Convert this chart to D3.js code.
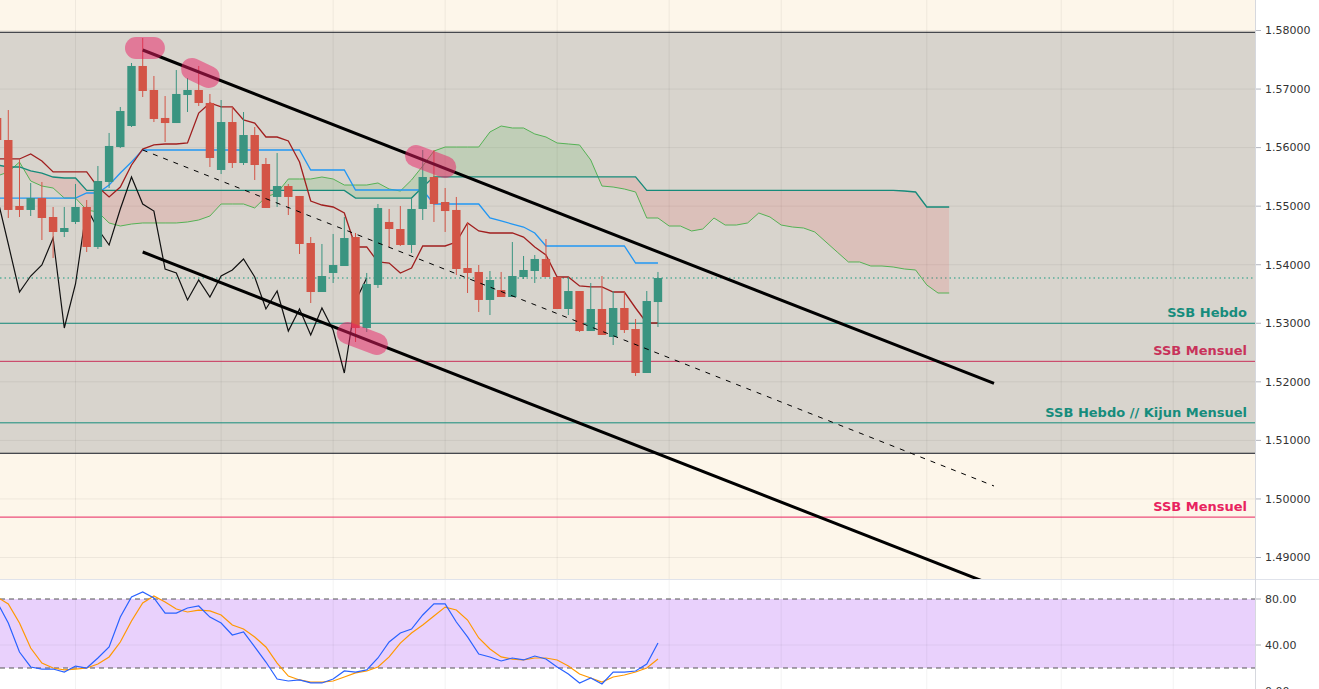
<!DOCTYPE html>
<html>
<head>
<meta charset="utf-8">
<script src="https://cdn.jsdelivr.net/npm/d3@7"></script>
<style>
  body { margin: 0; background: #ffffff; overflow: hidden; }
  svg { display: block; }
</style>
</head>
<body>
<svg id="chart" width="1319" height="689"></svg>
<script>
// ---- data (bar index -1 .. 58, spans run on to 84) ----
var barIdx = d3.range(-1, 59);

var opens  = [1.56506,1.56130,1.55003,1.54935,1.55139,1.54815,1.54559,1.54730,1.54986,1.54303,1.55413,1.56010,1.56369,1.57394,1.56984,1.56506,1.56420,1.56898,1.56984,1.56762,1.55618,1.56437,1.55737,1.56215,1.55720,1.55157,1.55344,1.55174,1.54371,1.53534,1.53859,1.53978,1.54473,1.52919,1.53654,1.54730,1.54610,1.54337,1.54952,1.55498,1.55071,1.54935,1.53944,1.53876,1.53398,1.53568,1.53449,1.53790,1.53893,1.54098,1.53790,1.53244,1.53551,1.52868,1.53244,1.52766,1.53261,1.52902,1.52151,1.53363];
var highs  = [1.56642,1.56642,1.55806,1.55396,1.55413,1.54986,1.54986,1.55379,1.55105,1.55686,1.56250,1.56694,1.57445,1.57872,1.57223,1.56881,1.57325,1.57189,1.57394,1.56916,1.56813,1.56694,1.56608,1.56352,1.55823,1.55908,1.55379,1.55174,1.54473,1.54354,1.54525,1.54815,1.54542,1.53859,1.55037,1.54952,1.55003,1.55139,1.55959,1.55959,1.55310,1.55157,1.54730,1.53995,1.53893,1.53876,1.54388,1.54149,1.54166,1.54439,1.53790,1.53790,1.53551,1.53688,1.53807,1.53551,1.53551,1.53073,1.53551,1.53876];
var lows   = [1.56045,1.54798,1.54815,1.54832,1.54422,1.54115,1.54473,1.54695,1.54217,1.54269,1.55310,1.55993,1.56352,1.56864,1.56437,1.56096,1.56420,1.56608,1.56711,1.55669,1.55549,1.55652,1.55703,1.55447,1.54969,1.54986,1.54849,1.54183,1.53346,1.53534,1.53688,1.53978,1.52680,1.52851,1.53603,1.54303,1.54320,1.54200,1.54764,1.54730,1.54559,1.53824,1.53517,1.53193,1.53141,1.53449,1.53449,1.53756,1.53688,1.53790,1.53244,1.53141,1.52851,1.52868,1.52800,1.52629,1.52834,1.52100,1.52151,1.52936];
var closes = [1.56130,1.54935,1.54935,1.55139,1.54798,1.54559,1.54627,1.54986,1.54303,1.55430,1.56028,1.56625,1.57394,1.56967,1.56489,1.56420,1.56916,1.56984,1.56762,1.55823,1.56437,1.55737,1.56215,1.55703,1.54969,1.55344,1.55157,1.54354,1.53534,1.53807,1.53995,1.54456,1.52919,1.53671,1.54969,1.54610,1.54337,1.54952,1.55498,1.55037,1.54917,1.53927,1.53859,1.53398,1.53739,1.53449,1.53807,1.53910,1.54098,1.53790,1.53244,1.53551,1.52868,1.53244,1.52800,1.53261,1.52885,1.52151,1.53380,1.53773];

var tenkan = [1.55806,1.55806,1.55806,1.55891,1.55771,1.55584,1.55584,1.55584,1.55584,1.55327,1.55157,1.55327,1.55703,1.55976,1.56045,1.56062,1.56062,1.56079,1.56591,1.56762,1.56694,1.56694,1.56472,1.56420,1.56181,1.56181,1.56113,1.55754,1.55088,1.55020,1.54986,1.54883,1.54303,1.54303,1.54047,1.54029,1.53859,1.53944,1.54320,1.54320,1.54320,1.54388,1.54713,1.54576,1.54542,1.54542,1.54542,1.54473,1.54303,1.54166,1.53790,1.53790,1.53637,1.53620,1.53620,1.53534,1.53534,1.53261,1.53005,1.53005];
var kijun  = [1.55139,1.55139,1.55139,1.55139,1.55139,1.55139,1.55139,1.55139,1.55225,1.55225,1.55361,1.55566,1.55754,1.55959,1.55959,1.55959,1.55959,1.55959,1.55959,1.55959,1.55959,1.55959,1.55959,1.55959,1.55959,1.55959,1.55959,1.55959,1.55618,1.55618,1.55618,1.55618,1.55276,1.55276,1.55276,1.55276,1.55276,1.55276,1.55276,1.55037,1.55037,1.55037,1.55037,1.55037,1.54798,1.54747,1.54695,1.54644,1.54542,1.54320,1.54320,1.54320,1.54320,1.54320,1.54320,1.54320,1.54320,1.54029,1.54029,1.54029];
var spanA  = [1.55515,1.55584,1.55754,1.55430,1.55344,1.55310,1.55139,1.55139,1.54935,1.54900,1.54713,1.54661,1.54695,1.54713,1.54713,1.54713,1.54713,1.54730,1.54764,1.54832,1.55037,1.55037,1.55037,1.54969,1.55157,1.55225,1.55464,1.55464,1.55464,1.55498,1.55464,1.55361,1.55361,1.55361,1.55396,1.55293,1.55259,1.55447,1.55686,1.55942,1.56010,1.56010,1.56010,1.56010,1.56267,1.56369,1.56335,1.56335,1.56233,1.56181,1.56079,1.56062,1.56045,1.55788,1.55344,1.55327,1.55293,1.55242,1.54798,1.54798,1.54661,1.54661,1.54576,1.54610,1.54798,1.54678,1.54678,1.54713,1.54883,1.54815,1.54678,1.54644,1.54627,1.54559,1.54388,1.54217,1.54047,1.54047,1.53978,1.53978,1.53961,1.53927,1.53910,1.53654,1.53517,1.53517];
var spanB  = [1.55703,1.55669,1.55669,1.55601,1.55566,1.55498,1.55481,1.55481,1.55270,1.55270,1.55270,1.55270,1.55270,1.55270,1.55270,1.55270,1.55270,1.55270,1.55270,1.55270,1.55270,1.55270,1.55270,1.55270,1.55270,1.55270,1.55270,1.55270,1.55270,1.55270,1.55270,1.55270,1.55139,1.55139,1.55139,1.55139,1.55139,1.55139,1.55327,1.55500,1.55500,1.55500,1.55500,1.55500,1.55500,1.55500,1.55500,1.55500,1.55500,1.55500,1.55500,1.55500,1.55500,1.55500,1.55500,1.55500,1.55500,1.55500,1.55270,1.55270,1.55270,1.55270,1.55270,1.55270,1.55270,1.55270,1.55270,1.55270,1.55270,1.55270,1.55270,1.55270,1.55270,1.55270,1.55270,1.55270,1.55270,1.55270,1.55270,1.55270,1.55270,1.55259,1.55242,1.54986,1.54986,1.54986];
var chikou = [1.55157,1.54354,1.53534,1.53807,1.53995,1.54456,1.52919,1.53671,1.54969,1.54610,1.54337,1.54952,1.55498,1.55037,1.54917,1.53927,1.53859,1.53398,1.53739,1.53449,1.53807,1.53910,1.54098,1.53790,1.53244,1.53551,1.52868,1.53244,1.52800,1.53261,1.52885,1.52151,1.53380,1.53773];

var stochK = [77.4,59.1,33.9,20.9,19.1,19.1,16.5,21.7,20,28.7,38.3,64.3,81.7,86.1,80.9,67.8,67.8,72.2,73.9,64.3,59.1,48.7,51.3,38.3,25.2,10.4,8.7,9.6,7,7,10.4,17.4,16.5,18.3,28.7,42.6,50.4,53.9,66.1,75.7,75.7,60,47,32.2,29.6,26.1,28.7,27,30.4,27.8,20.9,14.8,7,11.3,6.1,16.5,16.5,17.4,23.5,41.7];
var stochD = [81.7,75.7,59.1,37.4,24.3,20,18.3,19.1,20,23.5,29.6,42.6,60.9,76.5,82.6,77.4,71.3,68.7,70.4,69.6,66.1,57.4,53.9,47,38.3,24.3,13,9.6,7.8,7.8,8.7,12.2,15.7,17.4,20.9,29.6,41.7,50.4,57.4,65.2,73,70.4,61.7,46.1,36.5,29.6,27.8,27,28.7,28.7,27,21.7,14.8,11.3,7.8,12.2,13.9,16.5,20,27.8];

var priceTicks = [1.49, 1.50, 1.51, 1.52, 1.53, 1.54, 1.55, 1.56, 1.57, 1.58];
var stochTicks = [0, 40, 80];
var gridBars = [6, 19, 29, 39, 49, 59, 69, 82, 94, 104];

var zoneTop = 1.5797, zoneBottom = 1.5078, lastPrice = 1.53773;
var levelPrices = [1.5300, 1.5235, 1.5130, 1.4969];
var levelLabels = ["SSB Hebdo", "SSB Mensuel", "SSB Hebdo // Kijun Mensuel", "SSB Mensuel"];
var levelColors = ["#168c7c", "#c8325a", "#168c7c", "#e8235f"];

// channel drawn on the chart: [bar, price] end points
var channelUpper = [[12, 1.57667], [88, 1.51972]];
var channelMid   = [[12, 1.55959], [88, 1.50221]];
var channelLower = [[12, 1.54217], [88, 1.48522]];
// highlight marks: [bar, price] end points of each capsule
var marks = [
  [[11.4, 1.57701], [13.0, 1.57701]],
  [[16.4, 1.57343], [17.9, 1.57206]],
  [[36.4, 1.55857], [39.0, 1.55669]],
  [[30.3, 1.52834], [32.9, 1.52646]]
];

// ---- layout ----
var svg = d3.select("#chart");
var W = 1319, H = 689, plotW = 1255, mainH = 579, subTop = 580;

var x = d3.scaleLinear().domain([-0.74, 111.3]).range([0, plotW]);
var y = d3.scaleLinear().domain([1.49, 1.58]).range([557.5, 30.5]);
var ys = d3.scaleLinear().domain([0, 80]).range([691, 599]);

var defs = svg.append("defs");
defs.append("clipPath").attr("id", "clipMain")
  .append("rect").attr("x", 0).attr("y", 0).attr("width", plotW).attr("height", mainH);
defs.append("clipPath").attr("id", "clipSub")
  .append("rect").attr("x", 0).attr("y", subTop).attr("width", plotW).attr("height", H - subTop);

var spanX = function(d, k) { return x(k - 1); };
defs.append("clipPath").attr("id", "aboveB").append("path")
  .attr("d", d3.area().x(spanX).y0(0).y1(function(d) { return y(d); })(spanB));
defs.append("clipPath").attr("id", "belowB").append("path")
  .attr("d", d3.area().x(spanX).y0(mainH).y1(function(d) { return y(d); })(spanB));

// backgrounds
svg.append("rect").attr("width", W).attr("height", H).attr("fill", "#ffffff");
svg.append("rect").attr("x", 0).attr("y", 0).attr("width", plotW).attr("height", mainH).attr("fill", "#fdf6ea");

var g = svg.append("g").attr("clip-path", "url(#clipMain)");

g.append("rect")
  .attr("x", 0).attr("width", plotW)
  .attr("y", y(zoneTop)).attr("height", y(zoneBottom) - y(zoneTop))
  .attr("fill", "#d8d4cd");

// grid
g.selectAll(".hgrid").data(priceTicks).enter().append("line")
  .attr("x1", 0).attr("x2", plotW)
  .attr("y1", function(d) { return y(d); }).attr("y2", function(d) { return y(d); })
  .attr("stroke", "rgba(0,0,0,0.06)");
g.selectAll(".vgrid").data(gridBars).enter().append("line")
  .attr("x1", function(d) { return x(d); }).attr("x2", function(d) { return x(d); })
  .attr("y1", 0).attr("y2", mainH)
  .attr("stroke", "rgba(0,0,0,0.06)");

// zone borders and price levels
[zoneTop, zoneBottom].forEach(function(p) {
  g.append("line").attr("x1", 0).attr("x2", plotW)
    .attr("y1", y(p)).attr("y2", y(p))
    .attr("stroke", "#131722").attr("stroke-width", 1);
});
g.append("line").attr("x1", 0).attr("x2", plotW)
  .attr("y1", y(lastPrice)).attr("y2", y(lastPrice))
  .attr("stroke", "#1a9a80").attr("stroke-dasharray", "1.5,3");

g.selectAll(".level").data(levelPrices).enter().append("line")
  .attr("x1", 0).attr("x2", plotW)
  .attr("y1", function(d) { return y(d); }).attr("y2", function(d) { return y(d); })
  .attr("stroke", function(d, k) { return levelColors[k]; })
  .attr("stroke-width", 1);

// cloud
var cloud = d3.area().x(spanX)
  .y0(function(d, k) { return y(spanB[k]); })
  .y1(function(d) { return y(d); });
g.append("g").attr("clip-path", "url(#aboveB)").append("path")
  .attr("d", cloud(spanA)).attr("fill", "rgba(76,175,80,0.17)");
g.append("g").attr("clip-path", "url(#belowB)").append("path")
  .attr("d", cloud(spanA)).attr("fill", "rgba(239,83,80,0.15)");

var line = d3.line().x(spanX).y(function(d) { return y(d); });
g.append("path").attr("d", line(spanA)).attr("fill", "none").attr("stroke", "#55b255").attr("stroke-width", 1);
g.append("path").attr("d", line(spanB)).attr("fill", "none").attr("stroke", "#168a7a").attr("stroke-width", 1.3);
g.append("path").attr("d", line(chikou)).attr("fill", "none").attr("stroke", "#111111").attr("stroke-width", 1.2);
g.append("path").attr("d", line(kijun)).attr("fill", "none").attr("stroke", "#2196f3").attr("stroke-width", 1.3);
g.append("path").attr("d", line(tenkan)).attr("fill", "none").attr("stroke", "#a01e1e").attr("stroke-width", 1.3);

// candles
var bodyW = 8.4;
var candleColor = function(k) { return closes[k] >= opens[k] ? "#3a9480" : "#d35446"; };
var candles = g.selectAll(".candle").data(barIdx).enter().append("g");
candles.append("line")
  .attr("x1", function(d) { return x(d); }).attr("x2", function(d) { return x(d); })
  .attr("y1", function(d, k) { return y(highs[k]); })
  .attr("y2", function(d, k) { return y(lows[k]); })
  .attr("stroke", function(d, k) { return candleColor(k); })
  .attr("stroke-width", 1);
candles.append("rect")
  .attr("x", function(d) { return x(d) - bodyW / 2; })
  .attr("width", bodyW)
  .attr("y", function(d, k) { return y(Math.max(opens[k], closes[k])); })
  .attr("height", function(d, k) { return Math.max(1, Math.abs(y(opens[k]) - y(closes[k]))); })
  .attr("fill", function(d, k) { return candleColor(k); });

// channel
var seg = d3.line().x(function(d) { return x(d[0]); }).y(function(d) { return y(d[1]); });
g.append("path").attr("d", seg(channelUpper)).attr("stroke", "#000").attr("stroke-width", 3).attr("fill", "none");
g.append("path").attr("d", seg(channelLower)).attr("stroke", "#000").attr("stroke-width", 3).attr("fill", "none");
g.append("path").attr("d", seg(channelMid)).attr("stroke", "#000").attr("stroke-width", 1)
  .attr("stroke-dasharray", "5,6").attr("fill", "none");

// highlight capsules
g.selectAll(".mark").data(marks).enter().append("path")
  .attr("d", function(d) { return seg(d); })
  .attr("stroke", "#e91e63").attr("stroke-opacity", 0.5)
  .attr("stroke-width", 22).attr("stroke-linecap", "round").attr("fill", "none");

// level labels
g.selectAll(".lbl").data(levelPrices).enter().append("text")
  .attr("x", 1247).attr("y", function(d) { return y(d) - 6; })
  .attr("text-anchor", "end")
  .attr("font-family", "DejaVu Sans, Verdana, sans-serif")
  .attr("font-weight", "bold").attr("font-size", 13)
  .attr("fill", function(d, k) { return levelColors[k]; })
  .text(function(d, k) { return levelLabels[k]; });

// ---- stochastic panel ----
svg.append("rect").attr("x", 0).attr("y", subTop).attr("width", plotW).attr("height", H - subTop).attr("fill", "#ffffff");
var s = svg.append("g").attr("clip-path", "url(#clipSub)");
s.append("rect").attr("x", 0).attr("width", plotW)
  .attr("y", ys(80)).attr("height", ys(20) - ys(80))
  .attr("fill", "#e9d1fc");
s.selectAll(".svgrid").data(gridBars).enter().append("line")
  .attr("x1", function(d) { return x(d); }).attr("x2", function(d) { return x(d); })
  .attr("y1", subTop).attr("y2", H)
  .attr("stroke", "rgba(0,0,0,0.05)");
s.append("line").attr("x1", 0).attr("x2", plotW).attr("y1", ys(40)).attr("y2", ys(40))
  .attr("stroke", "rgba(0,0,0,0.05)");
[80, 20].forEach(function(v) {
  s.append("line").attr("x1", 0).attr("x2", plotW).attr("y1", ys(v)).attr("y2", ys(v))
    .attr("stroke", "#555").attr("stroke-dasharray", "5,4");
});
var sline = d3.line().x(function(d, k) { return x(k - 1); }).y(function(d) { return ys(d); });
s.append("path").attr("d", sline(stochD)).attr("fill", "none").attr("stroke", "#ff9800").attr("stroke-width", 1.2);
s.append("path").attr("d", sline(stochK)).attr("fill", "none").attr("stroke", "#2962ff").attr("stroke-width", 1.2);

// ---- frame and axes ----
svg.append("line").attr("x1", 0).attr("x2", W).attr("y1", mainH + 0.5).attr("y2", mainH + 0.5).attr("stroke", "#e0e3eb");
svg.append("line").attr("x1", plotW + 0.5).attr("x2", plotW + 0.5).attr("y1", 0).attr("y2", H).attr("stroke", "#d6d8de");

var axisFont = "DejaVu Sans, Verdana, sans-serif";
var pa = svg.append("g");
pa.selectAll("line").data(priceTicks).enter().append("line")
  .attr("x1", plotW + 1).attr("x2", plotW + 6)
  .attr("y1", function(d) { return y(d); }).attr("y2", function(d) { return y(d); })
  .attr("stroke", "#b2b5be");
pa.selectAll("text").data(priceTicks).enter().append("text")
  .attr("x", 1265).attr("y", function(d) { return y(d); }).attr("dy", "0.35em")
  .attr("font-family", axisFont).attr("font-size", 11).attr("fill", "#333")
  .text(function(d) { return d.toFixed(5); });

var sa = svg.append("g");
sa.selectAll("line").data(stochTicks).enter().append("line")
  .attr("x1", plotW + 1).attr("x2", plotW + 6)
  .attr("y1", function(d) { return ys(d); }).attr("y2", function(d) { return ys(d); })
  .attr("stroke", "#b2b5be");
sa.selectAll("text").data(stochTicks).enter().append("text")
  .attr("x", 1265).attr("y", function(d) { return ys(d); }).attr("dy", "0.35em")
  .attr("font-family", axisFont).attr("font-size", 11).attr("fill", "#333")
  .text(function(d) { return d.toFixed(2); });
</script>
</body>
</html>
